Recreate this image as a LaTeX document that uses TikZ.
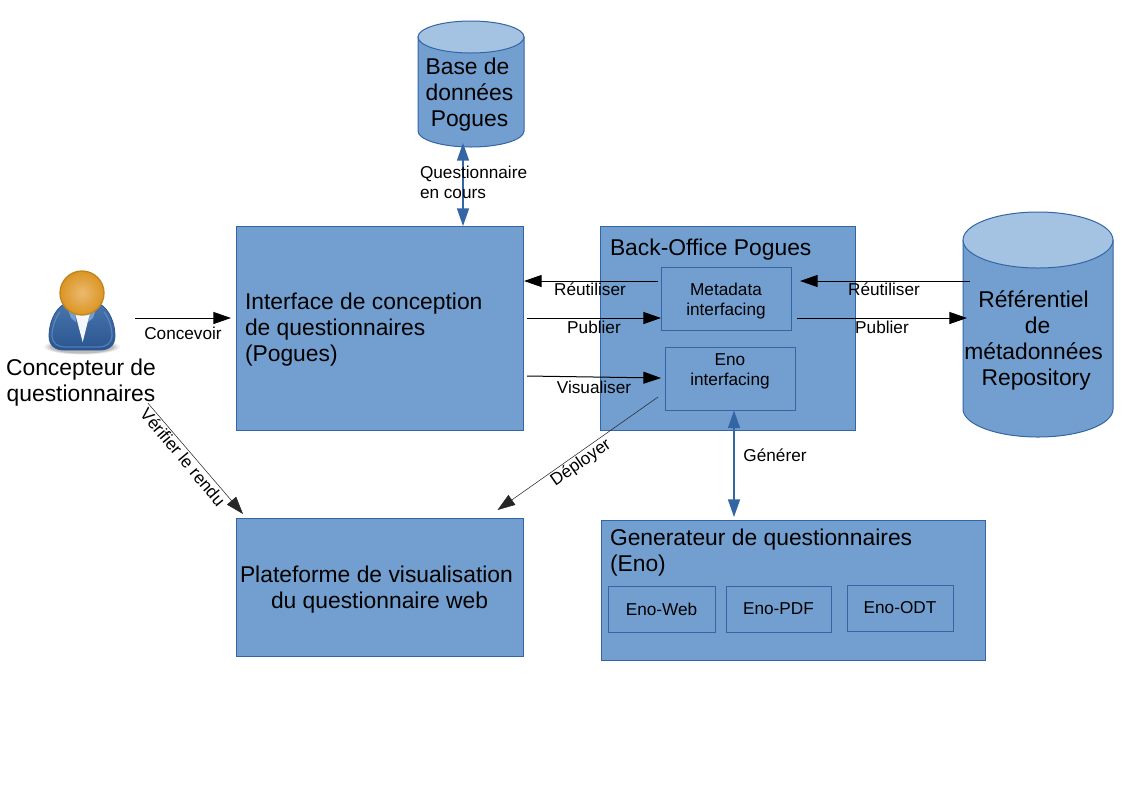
\documentclass[tikz,border=0pt]{standalone}
\usepackage{fontspec}
\setmainfont{Liberation Sans}
\usetikzlibrary{arrows.meta,calc}
\definecolor{boxfill}{HTML}{729FCF}
\definecolor{boxline}{HTML}{3465A4}
\definecolor{topfill}{HTML}{A4C2E2}
\definecolor{headin}{HTML}{EBB96F}
\definecolor{headout}{HTML}{DB9523}
\definecolor{headline}{HTML}{C2841F}
\definecolor{bodydark}{HTML}{2A5590}
\tikzset{
  x=0.75pt,y=-0.75pt,
  big/.style={font=\fontsize{17.13}{19.5}\selectfont,inner sep=0pt,outer sep=0pt},
  small/.style={font=\fontsize{12.9}{15}\selectfont,inner sep=0pt,outer sep=0pt},
  box/.style 2 args={draw=boxline,fill=boxfill,line width=0.75pt,inner sep=0pt,outer sep=0pt,
    minimum width=#1*0.75pt,minimum height=#2*0.75pt},
  ghost/.style 2 args={inner sep=0pt,outer sep=0pt,minimum width=#1*0.75pt,minimum height=#2*0.75pt},
  cyl/.style={draw=boxline,fill=boxfill,line width=0.75pt},
  cyltop/.style={draw=boxline,fill=topfill,line width=0.75pt},
  arr/.style={draw=black,line width=0.75pt,-{Triangle[length=13.2pt,width=9pt]}},
  thinarr/.style={draw=black!85,line width=0.4pt,-{Triangle[length=13.2pt,width=9pt]}},
  bluearr/.style={draw=boxline,line width=1pt,
    {Triangle[length=13.2pt,width=9pt]}-{Triangle[length=13.2pt,width=9pt]}},
}
\begin{document}
\begin{tikzpicture}
\useasboundingbox (0,0) rectangle (1123,794);
% database cylinders
\path[cyl] (418,37) -- (418,131) arc[x radius=53,y radius=16,start angle=180,end angle=0] -- (524,37) -- cycle;
\path[cyltop] (471,37) ellipse[x radius=53,y radius=16];
\node[ghost={106}{126}] (base) at (471,84) {};
\node[big,align=center] (basetext) at (469.5,94.5) {\hspace*{-3pt}Base de\\données\\Pogues};
\path[cyl] (963,240) -- (963,409) arc[x radius=75,y radius=28,start angle=180,end angle=0] -- (1113,240) -- cycle;
\path[cyltop] (1038,240) ellipse[x radius=75,y radius=28];
\node[ghost={150}{225}] (repo) at (1038,324.5) {};
\node[big,align=center] (repotext) at (1033.5,340) {Référentiel\\\hspace*{6pt}de\\métadonnées\\\hspace*{4pt}Repository};
% boxes
\node[box={287}{204}] (iface) at (379.5,328) {};
\node[big,align=left,anchor=west] (ifacetext) at (245,330) {Interface de conception\\de questionnaires\\(Pogues)};
\node[box={255}{204}] (back) at (728,328) {};
\node[big,anchor=base west] (backlabel) at (610,255) {Back-Office Pogues};
\node[box={130}{63}] (meta) at (726,298.5) {};
\node[small,align=center] (metatext) at (726,301.5) {Metadata\\interfacing};
\node[box={130}{63}] (enoint) at (730,378.5) {};
\node[small,align=center] (enointlabel) at (730,371) {Eno\\interfacing};
\node[box={287}{138}] (plat) at (380,587) {};
\node[big,anchor=base west] (platA) at (240,582) {Plateforme de visualisation};
\node[big,anchor=base west] (platB) at (271,608) {du questionnaire web};
\node[box={384}{140}] (gen) at (793,590) {};
\node[big,align=left,anchor=north west] (genlabel) at (610,529) {Generateur de questionnaires\\(Eno)};
\node[box={107}{46},small] (web) at (661.5,609) {\raisebox{-0.75pt}{Eno-Web}};
\node[box={105}{46},small] (pdf) at (778.5,609) {\raisebox{-0.75pt}{Eno-PDF}};
\node[box={106}{46},small] (odt) at (900,608) {Eno-ODT};
% person
\begin{scope}
  \foreach \r/\o in {38/0.05,36/0.06,34/0.08,32/0.1}{
    \fill[black,opacity=\o] (82,347) ellipse[x radius=\r,y radius=\r*0.2];
  }
  \path[draw=bodydark,line width=0.6pt,top color=boxline!90!white,bottom color=bodydark]
    (64,304) .. controls (54,310) and (49,324) .. (49,336) .. controls (49,346) and (56,350) .. (64,350)
    -- (100,350) .. controls (108,350) and (115,346) .. (115,336) .. controls (115,324) and (110,310) .. (100,304) -- cycle;
  \draw[boxfill,line width=0.9pt,opacity=0.55]
    (60,312) .. controls (55,318) and (52,328) .. (52,336) .. controls (52,343) and (58,347) .. (65,347)
    -- (99,347) .. controls (106,347) and (112,343) .. (112,336) .. controls (112,328) and (109,318) .. (104,312);
  \fill[boxfill] (68,309) -- (75,312) -- (76,322) -- (71,318) -- cycle;
  \fill[boxfill] (96,309) -- (89,312) -- (88,322) -- (93,318) -- cycle;
  \fill[white!92!boxfill] (75,313) -- (90,313) -- (82.7,342) -- cycle;
  \path[draw=headline,line width=1pt,inner color=headin,outer color=headout]
    (82,293) circle[radius=22];
\end{scope}
\node[ghost={66}{80}] (person) at (82,310) {};
\node[big,align=center] (actor) at (81,382.5) {Concepteur de\\questionnaires};
% connectors
\draw[arr] ([shift={(20,8)}]person.east) -- ([shift={(-5,-10)}]iface.west);
\draw[bluearr] ([shift={(-8,-4)}]base.south) -- ([shift={(83.5,0)}]iface.north);
\draw[arr] ([shift={(-3,-17.5)}]meta.west) -- ([shift={(1,-47)}]iface.east);
\draw[arr] ([shift={(4,-10)}]iface.east) -- ([shift={(0,19.5)}]meta.west);
\draw[arr] ([shift={(4,48)}]iface.east) -- ([shift={(-4,-0.5)}]enoint.west);
\draw[thinarr] ([shift={(-7,18.5)}]enoint.west) -- ([shift={(-26,-8)}]plat.north east);
\draw[bluearr] ([shift={(4,0.5)}]enoint.south) -- ([shift={(-59,-3)}]gen.north);
\draw[thinarr] ([shift={(-8,-3)}]actor.south east) -- ([shift={(6.5,-4)}]plat.north west);
\draw[arr] ([shift={(7,-43.5)}]repo.west) -- ([shift={(9,-17.5)}]meta.east);
\draw[arr] ([shift={(6,19.5)}]meta.east) -- ([shift={(4,-6.5)}]repo.west);
% labels
\node[small,anchor=base] (lconc) at (183,339) {Concevoir};
\node[small,align=left,anchor=west] (lquest) at (420,182.5) {Questionnaire\\en cours};
\node[small,anchor=base] (lre1) at (590,295) {Réutiliser};
\node[small,anchor=base] (lpub1) at (594,333) {Publier};
\node[small,anchor=base] (lvis) at (594,393) {Visualiser};
\node[small,anchor=base] (lgen) at (775,461) {Générer};
\node[small,anchor=base] (lre2) at (884,295) {Réutiliser};
\node[small,anchor=base] (lpub2) at (882,333) {Publier};
\node[small,rotate=-50] (lver) at (183,457) {Vérifier le rendu};
\node[small,rotate=35] (ldep) at (581,463) {Déployer};
\end{tikzpicture}
\end{document}
